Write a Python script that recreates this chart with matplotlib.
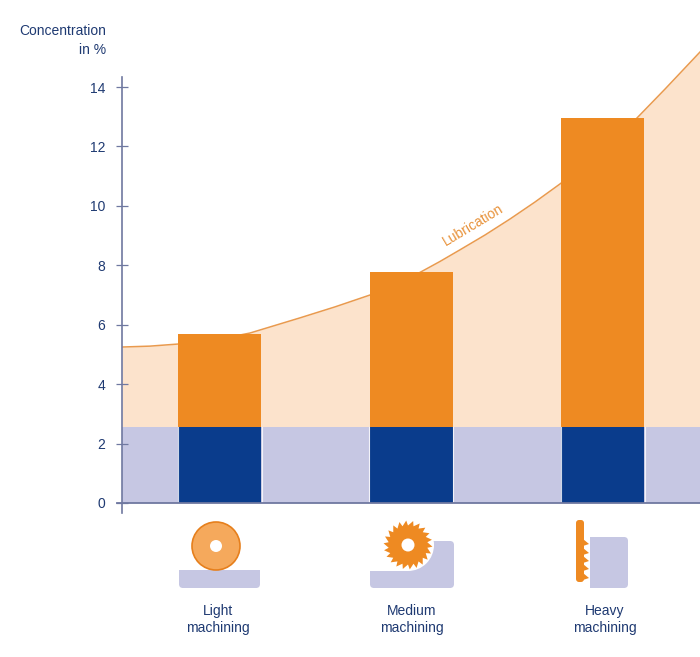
import numpy as np
import matplotlib
matplotlib.use("Agg")
import matplotlib.pyplot as plt
from matplotlib.patches import Circle, FancyBboxPatch, Polygon, Rectangle

plt.rcParams["font.family"] = ["Liberation Sans", "DejaVu Sans"]

categories = ["Light\nmachining", "Medium\nmachining", "Heavy\nmachining"]
base_conc = [2.57, 2.57, 2.57]
total_conc = [5.68, 7.78, 12.97]
yticks = [0, 2, 4, 6, 8, 10, 12, 14]

# lubrication curve
curve_x = [-0.511, -0.365, -0.219, -0.026, 0.157, 0.418, 0.601, 0.784, 0.915, 1.045, 1.150,
           1.254, 1.385, 1.516, 1.646, 1.777, 1.907, 2.038, 2.179, 2.325, 2.508]
curve_y = [5.25, 5.28, 5.35, 5.49, 5.72, 6.23, 6.60, 7.00, 7.37, 7.76, 8.13,
           8.52, 9.02, 9.56, 10.13, 10.74, 11.39, 12.12, 12.96, 13.93, 15.18]

NAVY = "#1f3a72"
AXIS = "#6f78a0"
ORANGE = "#ee8a22"
BLUE = "#0a3c8c"
PEACH = "#fce3cc"
LILAC = "#c6c7e3"
W, H = 700, 657
PX_PER_UNIT = 29.71

fig = plt.figure(figsize=(W / 100, H / 100), dpi=100)
top = 40
ax = fig.add_axes([122 / W, 1 - 513 / H, 578 / W, (513 - top) / H])
ax.set_xlim(-0.511, 2.508)
ax.set_ylim((503 - 513) / PX_PER_UNIT, (503 - top) / PX_PER_UNIT)
ax.patch.set_alpha(0)

band = base_conc[0]
ax.fill_between(curve_x, band, curve_y, color=PEACH, lw=0, zorder=1)
ax.fill_between(curve_x, 0, band, color=LILAC, lw=0, zorder=1)
ax.plot(curve_x, curve_y, color="#e99a4e", lw=1.1, zorder=2)

pos = np.arange(len(categories))
ax.bar(pos, np.array(total_conc) - np.array(base_conc), 0.434, bottom=base_conc,
       color=ORANGE, zorder=3)
ax.bar(pos, base_conc, 0.434, color=BLUE, zorder=3)
# thin white edges beside the bars
for p in pos:
    for side in (-0.219, 0.219):
        ax.plot([p + side] * 2, [0, band], color="white", lw=0.8, alpha=0.8, zorder=3)

for s in ["top", "right", "bottom"]:
    ax.spines[s].set_visible(False)
ax.spines["left"].set_color(AXIS)
ax.spines["left"].set_linewidth(1.2)
ax.spines["left"].set_bounds((503 - 513) / PX_PER_UNIT, (503 - 77) / PX_PER_UNIT)
ax.axhline(0, xmin=-0.008, color=AXIS, lw=1.3, zorder=4, clip_on=False)

ax.set_yticks(yticks)
ax.set_xticks([])
ax.tick_params(axis="y", direction="inout", length=8, width=0.9, color=AXIS,
               labelcolor=NAVY, labelsize=10, pad=8)
ax.text(1.322, 9.36, "Lubrication", color="#e8923a", fontsize=10, rotation=31,
        ha="center", va="center", zorder=4)

# icons and labels are placed in pixels on an overlay
ov = fig.add_axes([0, 0, 1, 1])
ov.set_xlim(0, W)
ov.set_ylim(H, 0)
ov.axis("off")
ov.patch.set_alpha(0)

ov.text(106, 31, "Concentration", color=NAVY, fontsize=10, ha="right", va="center")
ov.text(106, 50, "in %", color=NAVY, fontsize=10, ha="right", va="center")
for cx, lab in zip([218, 412, 605], categories):
    l1, l2 = lab.split("\n")
    ov.text(cx, 611, l1, color=NAVY, fontsize=10, ha="center", va="center")
    ov.text(cx, 628, l2, color=NAVY, fontsize=10, ha="center", va="center")


def block(x0, y0, x1, y1, r=4):
    ov.add_patch(FancyBboxPatch((x0 + r, y0 + r), x1 - x0 - 2 * r, y1 - y0 - 2 * r,
                                boxstyle=f"round,pad={r},rounding_size={r}",
                                fc=LILAC, ec="none", zorder=1))


# light: grinding wheel on a flat workpiece
block(179, 570, 260, 588)
ov.add_patch(Rectangle((179, 570), 81, 6, fc=LILAC, ec="none", zorder=1))
ov.add_patch(Circle((216, 546), 24, fc="#f5a95c", ec="#e67f1c", lw=1.2, zorder=2))
ov.add_patch(Circle((216, 546), 6, fc="white", ec="none", zorder=3))

# medium: saw blade cutting into a step
block(370, 541, 454, 588)
ov.add_patch(Rectangle((366, 530), 42, 41, fc="white", ec="none", zorder=1.5))
ov.add_patch(Circle((408, 545), 26, fc="white", ec="none", zorder=1.6))
n_teeth = 22
ang = np.linspace(0, 2 * np.pi, 2 * n_teeth, endpoint=False)
rad = np.where(np.arange(2 * n_teeth) % 2 == 0, 24.5, 19.5)
ang2 = ang + np.where(np.arange(2 * n_teeth) % 2 == 0, 0.07, 0)
ov.add_patch(Polygon(np.c_[408 + rad * np.cos(ang2), 545 + rad * np.sin(ang2)],
                     fc=ORANGE, ec="none", zorder=2))
ov.add_patch(Circle((408, 545), 6.5, fc="white", ec="none", zorder=3))

# heavy: broach against a block
block(590, 537, 628, 588)
ov.add_patch(Rectangle((590, 537), 8, 51, fc=LILAC, ec="none", zorder=1))
ov.add_patch(FancyBboxPatch((578, 522), 4, 58, boxstyle="round,pad=2,rounding_size=3",
                            fc=ORANGE, ec="none", zorder=3))
for ty in [543, 552, 560, 568, 577]:
    ov.add_patch(Polygon([(583, ty - 4), (589, ty + 1), (583, ty + 3)], fc=ORANGE, ec="none", zorder=3))

fig.savefig("out.png", dpi=100, facecolor="white")
